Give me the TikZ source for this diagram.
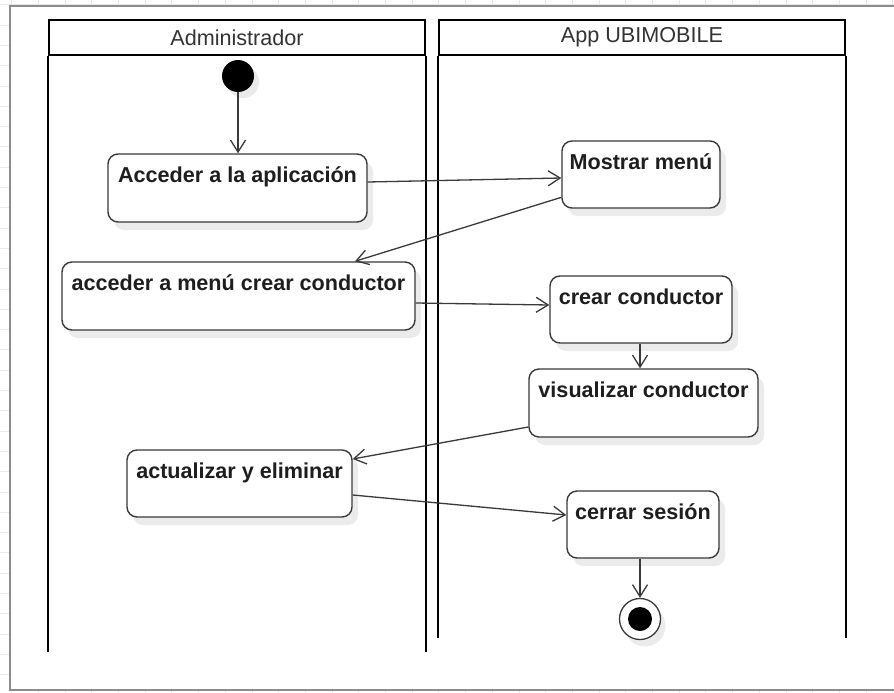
\documentclass[tikz,border=0pt]{standalone}
\usepackage{fontspec}
\setmainfont{Liberation Sans}
\usetikzlibrary{arrows.meta,shadows}
\definecolor{framegray}{HTML}{8C8C8C}
\definecolor{gridgray}{HTML}{E8E8E8}
\definecolor{linegray}{HTML}{3A3A3A}
\definecolor{textdark}{HTML}{1E1E1E}
\definecolor{headtext}{HTML}{333333}
\newcommand{\actfont}{\fontsize{21.6pt}{26pt}\selectfont\bfseries\color{textdark}}
\newcommand{\headfont}{\fontsize{21.6pt}{26pt}\selectfont\color{headtext}}
\begin{document}
\begin{tikzpicture}[x=1pt,y=-1pt,
  lanehead/.style={draw=black,line width=2pt,inner sep=0pt,font=\headfont},
  laneline/.style={draw=black,line width=2pt},
  act/.style={draw=linegray,line width=1.4pt,rounded corners=10pt,fill=white,inner sep=0pt,
    drop shadow={shadow xshift=6pt,shadow yshift=-8pt,fill=black!8,opacity=1}},
  acttext/.style={font=\actfont,anchor=base,yshift=-29pt,inner sep=0pt},
  flow/.style={draw=linegray,line width=1.3pt,-{Straight Barb[length=12pt,width=15pt]}},
]
\clip (0,0) rectangle (894,693);
% background grid
\foreach \i in {0,...,33} \draw[gridgray,line width=0.8pt] ({11.6+26.7*\i},0) -- ++(0,693);
\foreach \i in {0,...,34} \draw[gridgray,line width=0.8pt] (0,{4.7+20.3*\i}) -- ++(894,0);
% frame
\draw[framegray,line width=2pt,fill=white] (10,6) rectangle (910,690);

% lanes
\node[lanehead,minimum width=376pt,minimum height=35pt] (L1) at (237,37.5) {Administrador};
\node[lanehead,minimum width=406pt,minimum height=35pt] (L2) at (642,37.5) {App UBIMOBILE};
\coordinate (L1end) at (0,652);
\coordinate (L2end) at (0,638);
\draw[laneline] (L1.south west) -- (L1.south west |- L1end);
\draw[laneline] (L1.south east) -- (L1.south east |- L1end);
\draw[laneline] (L2.south west) -- (L2.south west |- L2end);
\draw[laneline] (L2.south east) -- (L2.south east |- L2end);

% start / end
\node[circle,fill=black,minimum size=32pt,inner sep=0pt,
  drop shadow={shadow xshift=5pt,shadow yshift=-6pt,fill=black!8,opacity=1}] (start) at (238,76) {};
\node[circle,draw=linegray,line width=1.3pt,fill=white,minimum size=41pt,inner sep=0pt,
  drop shadow={shadow xshift=5pt,shadow yshift=-7pt,fill=black!8,opacity=1}] (end) at (640,619) {};
\node[circle,fill=black,minimum size=24pt,inner sep=0pt] (endin) at (end) {};

% activities
\node[act,minimum width=259pt,minimum height=68pt,
  label={[acttext]north:Acceder a la aplicación}] (a1) at (237.5,188) {};
\node[act,minimum width=353pt,minimum height=68pt,
  label={[acttext]north:acceder a menú crear conductor}] (a2) at (238.5,296) {};
\node[act,minimum width=225pt,minimum height=67pt,
  label={[acttext]north:actualizar y eliminar}] (a3) at (239.5,483.5) {};
\node[act,minimum width=158pt,minimum height=67pt,
  label={[acttext]north:Mostrar menú}] (m1) at (641,174.5) {};
\node[act,minimum width=182pt,minimum height=67pt,
  label={[acttext]north:crear conductor}] (m2) at (641,309.5) {};
\node[act,minimum width=229pt,minimum height=68pt,
  label={[acttext]north:visualizar conductor}] (m3) at (643.5,403) {};
\node[act,minimum width=152pt,minimum height=67pt,
  label={[acttext]north:cerrar sesión}] (m4) at (643,524.5) {};

% flows
\draw[flow] (start.south) -- (start.south |- a1.north);
\draw[flow] ([yshift=6pt]a1.east) -- ([yshift=-3.5pt]m1.west);
\draw[flow] (m1.196) -- ([xshift=116.5pt]a2.north);
\draw[flow] ([yshift=-7pt]a2.east) -- ([yshift=4.5pt]m2.west);
\draw[flow] ([xshift=-1pt]m2.south) -- ([xshift=-1pt]m2.south |- m3.north);
\draw[flow] ([yshift=-24pt]m3.west) -- ([yshift=24.5pt]a3.east);
\draw[flow] ([yshift=-11.5pt]a3.east) -- ([yshift=9.5pt]m4.west);
\draw[flow] ([xshift=-3pt]m4.south) -- (end.north);
\end{tikzpicture}
\end{document}
